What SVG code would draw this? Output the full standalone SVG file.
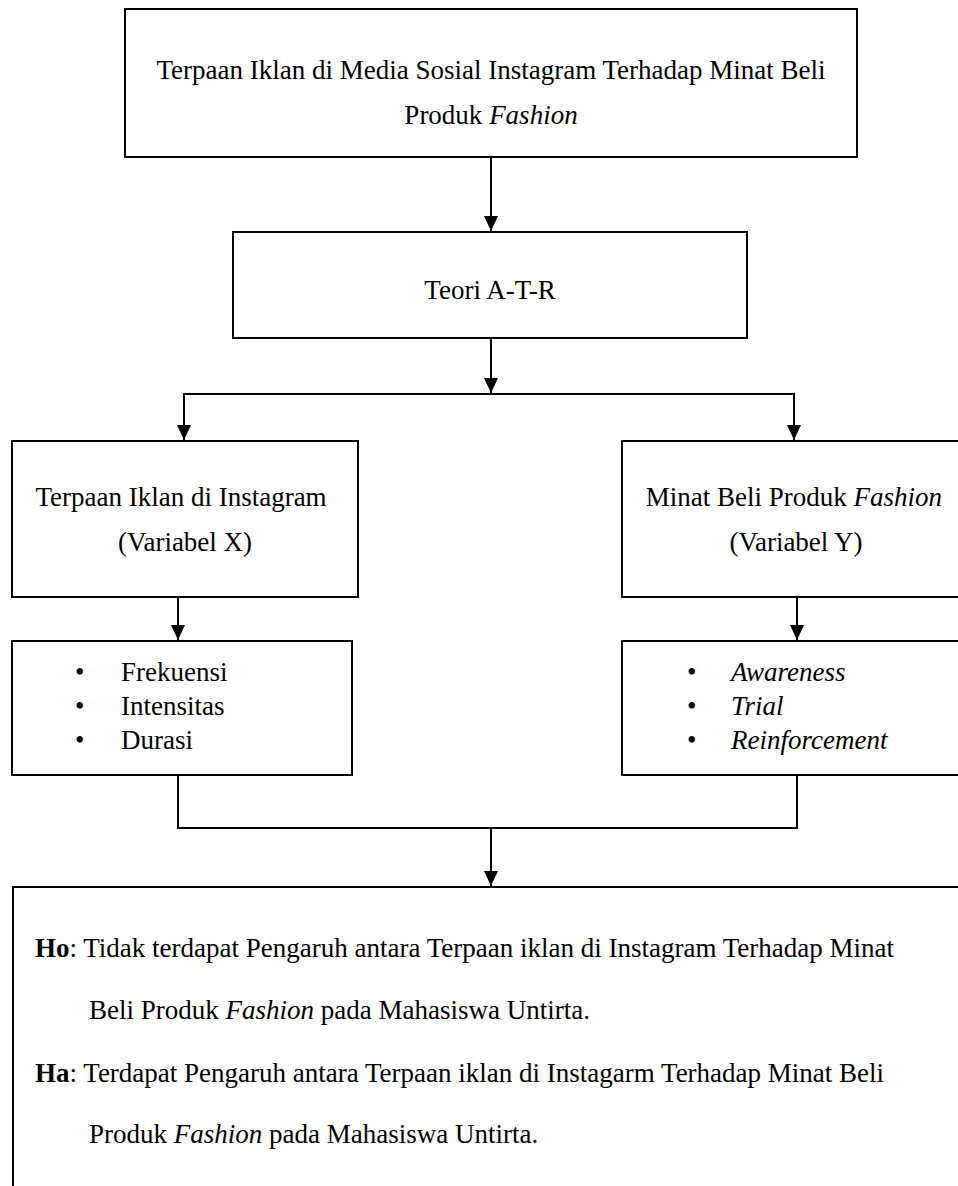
<svg xmlns="http://www.w3.org/2000/svg" width="958" height="1186" viewBox="0 0 958 1186">
<style>
.box{fill:#fff;stroke:#000;stroke-width:2}
.ln{fill:none;stroke:#000;stroke-width:2}
.t{font-family:"Liberation Serif","Times New Roman",serif;font-size:27px;fill:#000}
.c{text-anchor:middle}
.i{font-style:italic}
.b{font-weight:bold}
</style>
<defs>
<marker id="ah" markerWidth="14" markerHeight="15" refX="7" refY="15" orient="0" markerUnits="userSpaceOnUse" viewBox="0 0 14 15">
<path d="M0,0 L14,0 L7,15 Z" fill="#000"/>
</marker>
</defs>
<rect width="958" height="1186" fill="#fff"/>
<g id="connectors">
<line class="ln" x1="491" y1="157" x2="491" y2="231" marker-end="url(#ah)"/>
<line class="ln" x1="491" y1="338" x2="491" y2="393" marker-end="url(#ah)"/>
<polyline class="ln" points="184,441 184,394 794,394 794,441"/>
<line class="ln" x1="184" y1="400" x2="184" y2="440" marker-end="url(#ah)"/>
<line class="ln" x1="794" y1="400" x2="794" y2="440" marker-end="url(#ah)"/>
<line class="ln" x1="178" y1="597" x2="178" y2="640" marker-end="url(#ah)"/>
<line class="ln" x1="797" y1="597" x2="797" y2="640" marker-end="url(#ah)"/>
<polyline class="ln" points="178,775 178,828 797,828 797,775"/>
<line class="ln" x1="491" y1="828" x2="491" y2="886" marker-end="url(#ah)"/>
</g>
<g id="node-top">
<rect class="box" x="125" y="9" width="732" height="148"/>
<text class="t c" x="491" y="79">Terpaan Iklan di Media Sosial Instagram Terhadap Minat Beli</text>
<text class="t c" x="491" y="124">Produk <tspan class="i">Fashion</tspan></text>
</g>
<g id="node-teori">
<rect class="box" x="233" y="232" width="514" height="106"/>
<text class="t c" x="490" y="299">Teori A-T-R</text>
</g>
<g id="node-x">
<rect class="box" x="12" y="441" width="346" height="156"/>
<text class="t c" x="181" y="506">Terpaan Iklan di Instagram</text>
<text class="t c" x="185" y="551">(Variabel X)</text>
</g>
<g id="node-y">
<rect class="box" x="622" y="441" width="346" height="156"/>
<text class="t c" x="794" y="506">Minat Beli Produk <tspan class="i">Fashion</tspan></text>
<text class="t c" x="796" y="551">(Variabel Y)</text>
</g>
<g id="node-x-list">
<rect class="box" x="12" y="641" width="340" height="134"/>
<text class="t" x="75" y="681">•</text><text class="t" x="121" y="681">Frekuensi</text>
<text class="t" x="75" y="715">•</text><text class="t" x="121" y="715">Intensitas</text>
<text class="t" x="75" y="749">•</text><text class="t" x="121" y="749">Durasi</text>
</g>
<g id="node-y-list">
<rect class="box" x="622" y="641" width="346" height="134"/>
<text class="t" x="687" y="681">•</text><text class="t i" x="731" y="681">Awareness</text>
<text class="t" x="687" y="715">•</text><text class="t i" x="731" y="715">Trial</text>
<text class="t" x="687" y="749">•</text><text class="t i" x="731" y="749">Reinforcement</text>
</g>
<g id="node-hypothesis">
<rect class="box" x="13" y="887" width="960" height="320"/>
<text class="t" x="35" y="957"><tspan class="b">Ho</tspan>: Tidak terdapat Pengaruh antara Terpaan iklan di Instagram Terhadap Minat</text>
<text class="t" x="89" y="1019">Beli Produk <tspan class="i">Fashion</tspan> pada Mahasiswa Untirta.</text>
<text class="t" x="35" y="1082"><tspan class="b">Ha</tspan>: Terdapat Pengaruh antara Terpaan iklan di Instagarm Terhadap Minat Beli</text>
<text class="t" x="89" y="1143">Produk <tspan class="i">Fashion</tspan> pada Mahasiswa Untirta.</text>
</g>
</svg>
